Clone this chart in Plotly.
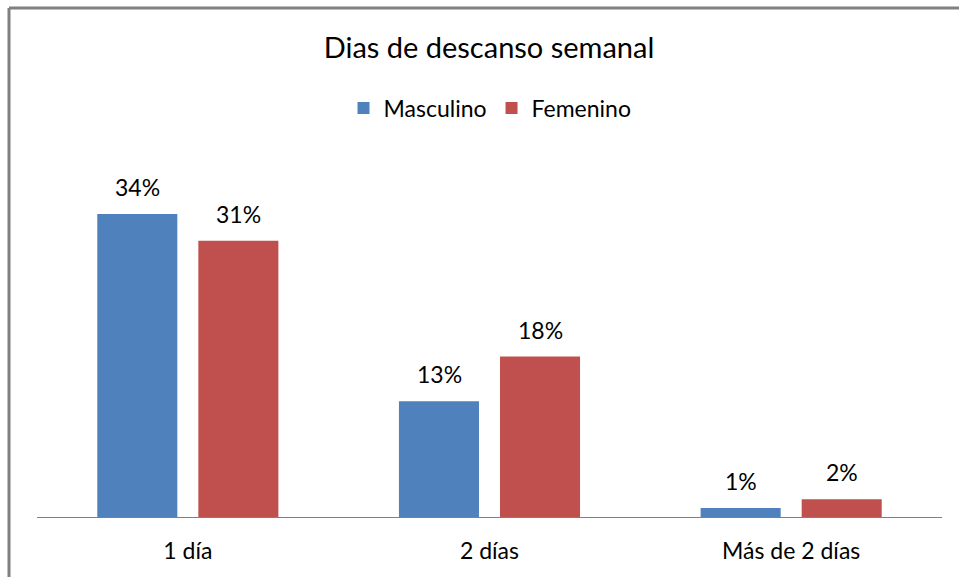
import plotly.graph_objects as go

categories = ["1 día", "2 días", "Más de 2 días"]
masculino = [34, 13, 1]
femenino = [31, 18, 2]
series_names = ["Masculino", "Femenino"]
colors = ["#4F81BD", "#C0504D"]
title_text = "Dias de descanso semanal"

W, H = 959, 577
ml, mr, mt, mb = 37, 17, 150, 60
px_per_unit = 8.912
plot_h = H - mt - mb
ymax = plot_h / px_per_unit

FONT = "Lato"

fig = go.Figure()
for name, vals, col in zip(series_names, [masculino, femenino], colors):
    fig.add_trace(go.Bar(name=name, x=categories, y=vals, marker=dict(color=col, line=dict(width=0))))

# data labels
offsets = [-50.5, 50.5]
for vals, off in zip([masculino, femenino], offsets):
    for c, v in zip(categories, vals):
        fig.add_annotation(x=c, y=v, text=f"{v}%", showarrow=False, xshift=off,
                           yanchor="bottom", yshift=11,
                           font=dict(family=FONT, size=23, color="#000000"))

# chart border (left & top visible)
pw = W - ml - mr
bx = (9 - ml) / pw
by = (H - mb - 8) / plot_h
border = dict(color="#808080", width=3)
fig.add_shape(type="line", xref="paper", yref="paper", x0=bx, x1=bx, y0=-0.5, y1=by, line=border)
fig.add_shape(type="line", xref="paper", yref="paper", x0=bx, x1=1.2, y0=by, y1=by, line=border)

fig.update_layout(
    width=W, height=H,
    margin=dict(l=ml, r=mr, t=mt, b=mb),
    paper_bgcolor="white", plot_bgcolor="white",
    barmode="group", bargap=0.33, bargroupgap=0.208,
    title=dict(text=title_text, x=489 / W, xanchor="center", xref="container",
               y=1 - 48 / H, yanchor="middle",
               font=dict(family=FONT, size=29, color="#000000")),
    legend=dict(orientation="h", x=(490 - ml) / pw, xanchor="center",
                y=(H - mb - 108) / plot_h, yanchor="middle",
                font=dict(family=FONT, size=23, color="#000000"),
                itemwidth=30, traceorder="normal"),
    showlegend=True,
    xaxis=dict(showline=True, linecolor="#808080", linewidth=1, ticks="",
               showgrid=False, zeroline=False,
               tickfont=dict(family=FONT, size=23, color="#000000"),
               ticklabelstandoff=13),
    yaxis=dict(visible=False, range=[0, ymax], showgrid=False, zeroline=False),
)

fig.write_html("out.html", config={"displayModeBar": False},
               post_script="document.body.style.margin='0';")
